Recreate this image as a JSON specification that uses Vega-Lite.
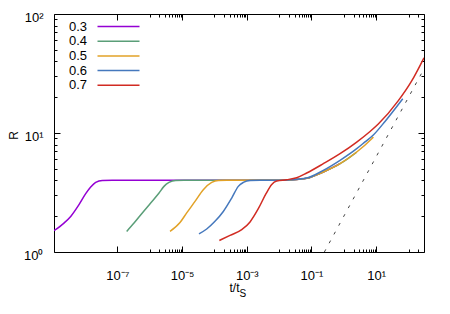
{
  "$schema": "https://vega.github.io/schema/vega-lite/v6.json",
  "width": 370,
  "height": 238,
  "autosize": {"type": "none"},
  "padding": {"left": 54, "top": 14, "right": 26, "bottom": 62},
  "background": "white",
  "config": {
    "view": {"stroke": "black", "strokeWidth": 1},
    "font": "Liberation Sans",
    "axis": {"domain": false, "grid": false, "tickColor": "black", "tickWidth": 1, "labelFont": "Liberation Sans", "labelFontSize": 13, "labelColor": "black", "titleFont": "Liberation Sans", "titleFontWeight": "normal", "titleColor": "black", "labelFlush": false, "labelOverlap": false, "labelBound": false}
  },
  "datasets": {
    "curves": [
      {"s": "0.3", "t": 1.10e-9, "R": 1.51}, {"s": "0.3", "t": 2.24e-9, "R": 1.75}, {"s": "0.3", "t": 3.61e-9, "R": 1.99}, {"s": "0.3", "t": 6.52e-9, "R": 2.50}, {"s": "0.3", "t": 1.05e-8, "R": 3.09}, {"s": "0.3", "t": 1.50e-8, "R": 3.51}, {"s": "0.3", "t": 2.14e-8, "R": 3.84}, {"s": "0.3", "t": 3.42e-8, "R": 3.99}, {"s": "0.3", "t": 6.96e-8, "R": 4.0}, {"s": "0.3", "t": 0.0106, "R": 4.0}, {"s": "0.3", "t": 0.0217, "R": 4.03}, {"s": "0.3", "t": 0.0711, "R": 4.16}, {"s": "0.3", "t": 0.232, "R": 4.70}, {"s": "0.3", "t": 0.762, "R": 5.52},
      {"s": "0.4", "t": 1.94e-7, "R": 1.49}, {"s": "0.4", "t": 3.27e-7, "R": 1.75}, {"s": "0.4", "t": 5.90e-7, "R": 2.13}, {"s": "0.4", "t": 1.07e-6, "R": 2.58}, {"s": "0.4", "t": 1.94e-6, "R": 3.13}, {"s": "0.4", "t": 2.76e-6, "R": 3.56}, {"s": "0.4", "t": 3.94e-6, "R": 3.84}, {"s": "0.4", "t": 6.35e-6, "R": 3.99}, {"s": "0.4", "t": 1.15e-5, "R": 4.0}, {"s": "0.4", "t": 0.0106, "R": 4.0}, {"s": "0.4", "t": 0.0217, "R": 4.03}, {"s": "0.4", "t": 0.0711, "R": 4.16}, {"s": "0.4", "t": 0.232, "R": 4.70}, {"s": "0.4", "t": 0.762, "R": 5.52}, {"s": "0.4", "t": 2.50, "R": 6.92},
      {"s": "0.5", "t": 4.24e-6, "R": 1.49}, {"s": "0.5", "t": 8.63e-6, "R": 1.77}, {"s": "0.5", "t": 1.39e-5, "R": 2.13}, {"s": "0.5", "t": 2.51e-5, "R": 2.66}, {"s": "0.5", "t": 4.53e-5, "R": 3.34}, {"s": "0.5", "t": 8.24e-5, "R": 3.84}, {"s": "0.5", "t": 1.32e-4, "R": 3.99}, {"s": "0.5", "t": 2.39e-4, "R": 4.0}, {"s": "0.5", "t": 0.0106, "R": 4.0}, {"s": "0.5", "t": 0.0217, "R": 4.03}, {"s": "0.5", "t": 0.0711, "R": 4.16}, {"s": "0.5", "t": 0.232, "R": 4.70}, {"s": "0.5", "t": 0.762, "R": 5.52}, {"s": "0.5", "t": 2.50, "R": 6.92}, {"s": "0.5", "t": 7.28, "R": 8.96}, {"s": "0.5", "t": 8.15, "R": 9.24},
      {"s": "0.6", "t": 3.33e-5, "R": 1.42}, {"s": "0.6", "t": 5.77e-5, "R": 1.56}, {"s": "0.6", "t": 1.04e-4, "R": 1.81}, {"s": "0.6", "t": 1.88e-4, "R": 2.19}, {"s": "0.6", "t": 3.42e-4, "R": 2.84}, {"s": "0.6", "t": 5.47e-4, "R": 3.56}, {"s": "0.6", "t": 7.82e-4, "R": 3.84}, {"s": "0.6", "t": 1.26e-3, "R": 3.99}, {"s": "0.6", "t": 2.56e-3, "R": 4.0}, {"s": "0.6", "t": 0.0106, "R": 4.0}, {"s": "0.6", "t": 0.0217, "R": 4.04}, {"s": "0.6", "t": 0.0711, "R": 4.18}, {"s": "0.6", "t": 0.232, "R": 4.85}, {"s": "0.6", "t": 0.762, "R": 5.89}, {"s": "0.6", "t": 2.50, "R": 7.38}, {"s": "0.6", "t": 4.52, "R": 8.42}, {"s": "0.6", "t": 8.15, "R": 9.62}, {"s": "0.6", "t": 18.7, "R": 12.5}, {"s": "0.6", "t": 66.1, "R": 19.4},
      {"s": "0.7", "t": 1.42e-4, "R": 1.25}, {"s": "0.7", "t": 3.03e-4, "R": 1.38}, {"s": "0.7", "t": 6.97e-4, "R": 1.54}, {"s": "0.7", "t": 1.26e-3, "R": 1.79}, {"s": "0.7", "t": 2.27e-3, "R": 2.31}, {"s": "0.7", "t": 3.93e-3, "R": 3.09}, {"s": "0.7", "t": 5.90e-3, "R": 3.70}, {"s": "0.7", "t": 8.41e-3, "R": 3.95}, {"s": "0.7", "t": 0.0171, "R": 4.05}, {"s": "0.7", "t": 0.0349, "R": 4.21}, {"s": "0.7", "t": 0.0711, "R": 4.61}, {"s": "0.7", "t": 0.232, "R": 5.52}, {"s": "0.7", "t": 0.762, "R": 6.70}, {"s": "0.7", "t": 2.50, "R": 8.39}, {"s": "0.7", "t": 6.44, "R": 10.3}, {"s": "0.7", "t": 11.6, "R": 11.9}, {"s": "0.7", "t": 48.3, "R": 18.7}, {"s": "0.7", "t": 125, "R": 27.4}, {"s": "0.7", "t": 300, "R": 42.9}
    ],
    "dash": [
      {"t": 0.25, "R": 1.0},
      {"t": 300, "R": 34.64}
    ]
  },
  "layer": [
    {
      "data": {"name": "curves"},
      "mark": {"type": "line", "strokeWidth": 1.5, "interpolate": "monotone", "clip": true},
      "encoding": {
        "x": {
          "field": "t", "type": "quantitative",
          "scale": {"type": "log", "domain": [1.1e-9, 300], "nice": false},
          "axis": {
            "orient": "bottom",
            "values": [1e-7, 1e-6, 2e-6, 3e-6, 4e-6, 5e-6, 6e-6, 7e-6, 8e-6, 9e-6, 1e-5, 1e-4, 2e-4, 3e-4, 4e-4, 5e-4, 6e-4, 7e-4, 8e-4, 9e-4, 0.001, 0.01, 0.02, 0.03, 0.04, 0.05, 0.06, 0.07, 0.08, 0.09, 0.1, 1, 2, 3, 4, 5, 6, 7, 8, 9, 10, 100, 200],
            "tickSize": {"condition": {"test": "datum.value == 1e-7 || datum.value == 1e-5 || datum.value == 0.001 || datum.value == 0.1 || datum.value == 10", "value": -6}, "value": -3},
            "labelExpr": "datum.value == 1e-7 ? '10⁻⁷' : datum.value == 1e-5 ? '10⁻⁵' : datum.value == 0.001 ? '10⁻³' : datum.value == 0.1 ? '10⁻¹' : datum.value == 10 ? '10¹' : ''",
            "labelPadding": 23,
            "title": "t/t",
            "titleFontSize": 12,
            "titleAlign": "right",
            "titleBaseline": "alphabetic",
            "titleX": 185,
            "titleY": 39
          }
        },
        "y": {
          "field": "R", "type": "quantitative",
          "scale": {"type": "log", "domain": [1, 100], "nice": false},
          "axis": {
            "orient": "left",
            "values": [1, 2, 3, 4, 5, 6, 7, 8, 9, 10, 20, 30, 40, 50, 60, 70, 80, 90, 100],
            "tickSize": {"condition": {"test": "datum.value == 1 || datum.value == 10 || datum.value == 100", "value": -6}, "value": -3},
            "labelExpr": "datum.value == 1 ? '10⁰' : datum.value == 10 ? '10¹' : datum.value == 100 ? '10²' : ''",
            "labelPadding": 17,
            "labelOffset": 3,
            "title": "R",
            "titleFontSize": 12,
            "titleAngle": 270,
            "titleAlign": "center",
            "titleBaseline": "middle",
            "titleX": -41,
            "titleY": 121
          }
        },
        "color": {
          "field": "s", "type": "nominal",
          "scale": {"domain": ["0.3", "0.4", "0.5", "0.6", "0.7"], "range": ["#9400d3", "#5a9e78", "#e2a227", "#4578bd", "#d12b22"]},
          "legend": {
            "orient": "none", "legendX": 14, "legendY": 6, "title": null,
            "symbolType": "M 4.6 0 H 13", "symbolSize": 100, "symbolStrokeWidth": 1.5,
            "labelFont": "Liberation Sans", "labelFontSize": 13, "labelColor": "black",
            "labelOffset": -12, "symbolOffset": 0, "rowPadding": 0.7, "padding": 0
          }
        }
      }
    },
    {
      "data": {"name": "dash"},
      "mark": {"type": "line", "color": "#444444", "strokeWidth": 1, "strokeDash": [3, 7], "clip": true},
      "encoding": {
        "x": {
          "field": "t", "type": "quantitative",
          "axis": {
            "orient": "top",
            "values": [1e-7, 1e-6, 2e-6, 3e-6, 4e-6, 5e-6, 6e-6, 7e-6, 8e-6, 9e-6, 1e-5, 1e-4, 2e-4, 3e-4, 4e-4, 5e-4, 6e-4, 7e-4, 8e-4, 9e-4, 0.001, 0.01, 0.02, 0.03, 0.04, 0.05, 0.06, 0.07, 0.08, 0.09, 0.1, 1, 2, 3, 4, 5, 6, 7, 8, 9, 10, 100, 200],
            "tickSize": {"condition": {"test": "datum.value == 1e-7 || datum.value == 1e-5 || datum.value == 0.001 || datum.value == 0.1 || datum.value == 10", "value": -6}, "value": -3},
            "labels": false,
            "title": "S",
            "titleFontSize": 10,
            "titleAlign": "left",
            "titleBaseline": "alphabetic",
            "titleX": 185,
            "titleY": 282
          }
        },
        "y": {
          "field": "R", "type": "quantitative",
          "axis": {
            "orient": "right",
            "values": [1, 2, 3, 4, 5, 6, 7, 8, 9, 10, 20, 30, 40, 50, 60, 70, 80, 90, 100],
            "tickSize": {"condition": {"test": "datum.value == 1 || datum.value == 10 || datum.value == 100", "value": -6}, "value": -3},
            "labels": false,
            "title": null
          }
        }
      }
    }
  ],
  "resolve": {"axis": {"x": "independent", "y": "independent"}}
}
